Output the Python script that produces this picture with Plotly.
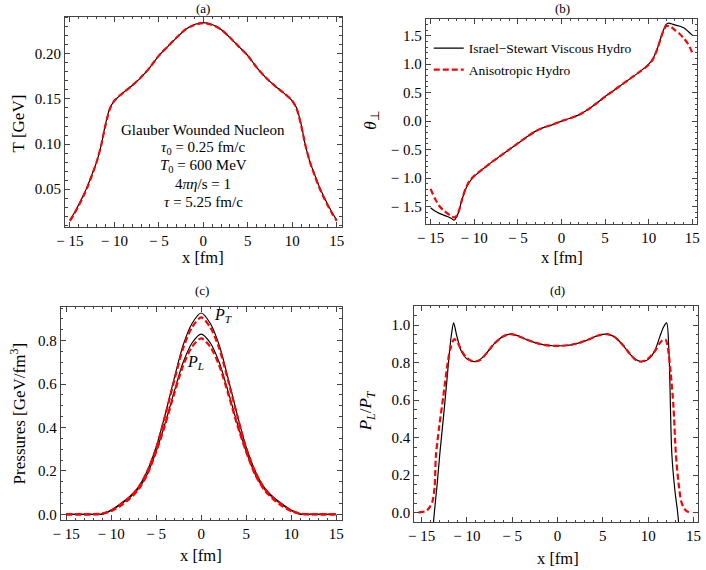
import plotly.graph_objects as go

# ---------------- data ----------------
# (a) temperature profile
x_a = [-15, -14.5, -14, -13.5, -13, -12.5, -12, -11.5, -11, -10.5, -10, -9, -8, -7, -6, -5, -4, -3, -2, -1, 0,
       1, 2, 3, 4, 5, 6, 7, 8, 9, 10, 10.5, 11, 11.5, 12, 12.5, 13, 13.5, 14, 14.5, 15]
T_is = [0.016, 0.024, 0.033, 0.043, 0.054, 0.067, 0.080, 0.098, 0.122, 0.140, 0.148, 0.157, 0.165, 0.174, 0.185,
        0.198, 0.208, 0.218, 0.227, 0.2325, 0.2345,
        0.2325, 0.227, 0.218, 0.208, 0.198, 0.185, 0.174, 0.165, 0.157, 0.148, 0.140, 0.122, 0.098, 0.080, 0.067,
        0.054, 0.043, 0.033, 0.024, 0.016]
T_ah = [0.015, 0.023, 0.032, 0.042, 0.053, 0.066, 0.080, 0.098, 0.121, 0.139, 0.148, 0.157, 0.165, 0.174, 0.185,
        0.198, 0.208, 0.218, 0.227, 0.232, 0.234,
        0.232, 0.227, 0.218, 0.208, 0.198, 0.185, 0.174, 0.165, 0.157, 0.148, 0.139, 0.121, 0.098, 0.080, 0.066,
        0.053, 0.042, 0.032, 0.023, 0.015]

# (b) theta_perp
x_b = [-15, -14.5, -14, -13.5, -13, -12.6, -12.3, -12, -11.7, -11.4, -11, -10.5, -10, -9, -8, -7, -6, -5, -4, -3,
       -2, -1, 0, 1, 2, 3, 4, 5, 6, 7, 8, 9, 10, 10.5, 11, 11.4, 11.7, 12, 12.3, 12.6, 13, 13.5, 14, 14.5, 15]
th_is = [-1.52, -1.58, -1.62, -1.65, -1.68, -1.71, -1.74, -1.68, -1.55, -1.38, -1.20, -1.06, -0.97, -0.84, -0.72,
         -0.61, -0.50, -0.39, -0.28, -0.18, -0.11, -0.06, 0.0, 0.05, 0.11, 0.20, 0.31, 0.43, 0.54, 0.65, 0.76,
         0.87, 1.00, 1.10, 1.28, 1.47, 1.60, 1.70, 1.72, 1.71, 1.69, 1.67, 1.64, 1.58, 1.51]
th_ah = [-1.19, -1.36, -1.49, -1.57, -1.63, -1.67, -1.69, -1.66, -1.55, -1.38, -1.19, -1.04, -0.96, -0.84, -0.72,
         -0.61, -0.50, -0.39, -0.28, -0.18, -0.11, -0.06, 0.0, 0.05, 0.11, 0.20, 0.31, 0.43, 0.54, 0.65, 0.76,
         0.87, 0.99, 1.09, 1.27, 1.46, 1.59, 1.67, 1.67, 1.65, 1.60, 1.54, 1.46, 1.36, 1.20]

# (c) pressures
x_c = [-15, -13, -12, -11, -10, -9, -8, -7, -6, -5, -4, -3, -2, -1, 0, 1, 2, 3, 4, 5, 6, 7, 8, 9, 10, 11, 12, 13, 15]
PT_is = [0.0, 0.0, 0.0, 0.001, 0.020, 0.048, 0.080, 0.125, 0.200, 0.310, 0.460, 0.625, 0.780, 0.880, 0.927,
         0.880, 0.780, 0.625, 0.460, 0.310, 0.200, 0.125, 0.080, 0.048, 0.020, 0.001, 0.0, 0.0, 0.0]
PL_is = [0.0, 0.0, 0.0, 0.001, 0.018, 0.045, 0.075, 0.117, 0.185, 0.290, 0.420, 0.565, 0.700, 0.790, 0.830,
         0.790, 0.700, 0.565, 0.420, 0.290, 0.185, 0.117, 0.075, 0.045, 0.018, 0.001, 0.0, 0.0, 0.0]
PT_ah = [0.0, 0.0, 0.001, 0.004, 0.018, 0.045, 0.077, 0.122, 0.197, 0.305, 0.455, 0.615, 0.765, 0.862, 0.907,
         0.862, 0.765, 0.615, 0.455, 0.305, 0.197, 0.122, 0.077, 0.045, 0.018, 0.004, 0.001, 0.0, 0.0]
PL_ah = [0.0, 0.0, 0.0, 0.003, 0.015, 0.038, 0.070, 0.113, 0.183, 0.288, 0.413, 0.555, 0.686, 0.772, 0.810,
         0.772, 0.686, 0.555, 0.413, 0.288, 0.183, 0.113, 0.070, 0.038, 0.015, 0.003, 0.0, 0.0, 0.0]

# (d) pressure ratio
x_d_is = [-13.75, -13.59, -13.3, -12.98, -12.6, -12.25, -11.95, -11.7, -11.46, -11.1, -10.6, -10.0, -9.5, -9.05,
          -8.6, -8.0, -7.0, -6.0, -5.25, -4.5, -3.5, -2.5, -1.5, -0.5, 0.5, 1.5, 2.5, 3.5, 4.5, 5.4, 6.2, 7.1,
          8.1, 8.7, 9.15, 9.6, 10.1, 10.7, 11.3, 11.7, 12.04, 12.3, 12.61, 12.95, 13.26, 13.4]
R_is = [-0.09, 0.0, 0.14, 0.316, 0.50, 0.68, 0.84, 0.95, 1.012, 0.94, 0.86, 0.82, 0.808, 0.806,
        0.815, 0.84, 0.90, 0.94, 0.952, 0.945, 0.925, 0.907, 0.895, 0.89, 0.89, 0.895, 0.907, 0.925, 0.945,
        0.952, 0.94, 0.90, 0.84, 0.815, 0.806, 0.808, 0.82, 0.86, 0.94, 0.99, 1.012, 0.85, 0.316, 0.12, 0.0,
        -0.08]
x_d_ah = [-15.33, -14.9, -14.45, -14.1, -13.8, -13.55, -13.42, -13.05, -12.6, -12.2, -11.85, -11.39, -11.0,
          -10.6, -10.1, -9.6, -9.05, -8.5, -8.0, -7.0, -6.0, -5.25, -4.5, -3.5, -2.5, -1.5, -0.5, 0.5, 1.5, 2.5,
          3.5, 4.5, 5.4, 6.2, 7.1, 8.1, 8.6, 9.15, 9.7, 10.2, 10.8, 11.3, 11.6, 11.93, 12.2, 12.5, 12.8, 13.05,
          13.35, 13.65, 13.95, 14.25, 14.53]
R_ah = [0.002, 0.004, 0.01, 0.03, 0.06, 0.14, 0.30, 0.46, 0.62, 0.77, 0.87, 0.925, 0.905, 0.865,
        0.83, 0.812, 0.806, 0.815, 0.84, 0.90, 0.94, 0.952, 0.945, 0.925, 0.907, 0.895, 0.89, 0.89, 0.895,
        0.907, 0.925, 0.945, 0.952, 0.94, 0.90, 0.84, 0.815, 0.806, 0.812, 0.83, 0.865, 0.905, 0.92, 0.922,
        0.87, 0.74, 0.56, 0.32, 0.16, 0.06, 0.025, 0.008, 0.002]

x_ticks = [-15, -10, -5, 0, 5, 10, 15]
x_ticktext = ["\u2212 15", "\u2212 10", "\u2212 5", "0", "5", "10", "15"]
yt_a = [0.05, 0.10, 0.15, 0.20]
yt_a_text = ["0.05", "0.10", "0.15", "0.20"]
yt_b = [-1.5, -1.0, -0.5, 0.0, 0.5, 1.0, 1.5]
yt_b_text = ["\u2212 1.5", "\u2212 1.0", "\u2212 0.5", "0.0", "0.5", "1.0", "1.5"]
yt_c = [0.0, 0.2, 0.4, 0.6, 0.8]
yt_c_text = ["0.0", "0.2", "0.4", "0.6", "0.8"]
yt_d = [0.0, 0.2, 0.4, 0.6, 0.8, 1.0]
yt_d_text = ["0.0", "0.2", "0.4", "0.6", "0.8", "1.0"]

LEG_IS = "Israel\u2212Stewart Viscous Hydro"
LEG_AH = "Anisotropic Hydro"

# ---------------- figure ----------------
W, H = 706, 570
FONT = "Liberation Serif, Times New Roman, serif"
FRAME = "#444444"
BLACK_LINE = dict(color="black", width=1.2, shape="spline", smoothing=0.8)
RED_LINE = dict(color="#ff0000", width=2.2, dash="6px,3px", shape="spline", smoothing=0.8)

fig = go.Figure()

def add(x, y, ax, line, name, show=False, group=None):
    fig.add_trace(go.Scatter(x=x, y=y, mode="lines", line=line, name=name, showlegend=show,
                             legendgroup=group, xaxis="x" + ax, yaxis="y" + ax, hoverinfo="skip"))

add(x_a, T_is, "", BLACK_LINE, LEG_IS)
add(x_a, T_ah, "", RED_LINE, LEG_AH)
add(x_b, th_is, "2", BLACK_LINE, LEG_IS, True, "g1")
add(x_b, th_ah, "2", RED_LINE, LEG_AH, True, "g2")
add(x_c, PT_is, "3", BLACK_LINE, LEG_IS)
add(x_c, PL_is, "3", BLACK_LINE, LEG_IS)
add(x_c, PT_ah, "3", RED_LINE, LEG_AH)
add(x_c, PL_ah, "3", RED_LINE, LEG_AH)
add(x_d_is, R_is, "4", BLACK_LINE, LEG_IS)
add(x_d_ah, R_ah, "4", RED_LINE, LEG_AH)

def px_dom_x(l, r):
    return [l / W, r / W]

def px_dom_y(top, bottom):
    return [1 - bottom / H, 1 - top / H]

def axis(dom, rng, tickvals, ticktext, minor_dtick, anchor):
    return dict(domain=dom, range=rng, tickvals=tickvals, ticktext=ticktext, anchor=anchor,
                showline=True, linecolor=FRAME, linewidth=1, mirror="allticks",
                ticks="inside", ticklen=5, tickwidth=1, tickcolor=FRAME,
                minor=dict(ticks="inside", ticklen=2.5, dtick=minor_dtick, tick0=0, tickcolor=FRAME, tickwidth=1),
                showgrid=False, zeroline=False,
                tickfont=dict(family=FONT, size=15, color="black"))

fig.update_layout(
    width=W, height=H, margin=dict(l=0, r=0, t=0, b=0),
    paper_bgcolor="white", plot_bgcolor="white",
    font=dict(family=FONT, color="black"),
    xaxis=axis(px_dom_x(57, 338.3), [-15.55, 15.55], x_ticks, x_ticktext, 1, "y"),
    yaxis=axis(px_dom_y(16.7, 227.3), [0.0087, 0.2412], yt_a, yt_a_text, 0.01, "x"),
    xaxis2=axis(px_dom_x(424, 700), [-15.55, 15.55], x_ticks, x_ticktext, 1, "y2"),
    yaxis2=axis(px_dom_y(19, 225), [-1.81, 1.795], yt_b, yt_b_text, 0.1, "x2"),
    xaxis3=axis(px_dom_x(52.7, 338.3), [-15.6, 15.6], x_ticks, x_ticktext, 1, "y3"),
    yaxis3=axis(px_dom_y(308, 522.3), [-0.028, 0.955], yt_c, yt_c_text, 0.05, "x3"),
    xaxis4=axis(px_dom_x(412.3, 701), [-15.8, 15.51], x_ticks, x_ticktext, 1, "y4"),
    yaxis4=axis(px_dom_y(306.7, 524.3), [-0.052, 1.104], yt_d, yt_d_text, 0.05, "x4"),
    legend=dict(x=427 / W, y=1 - 33 / H, xanchor="left", yanchor="top",
                bgcolor="rgba(0,0,0,0)", font=dict(family=FONT, size=13.5, color="black"),
                tracegroupgap=1, itemwidth=30),
)

ann = []
def text(xp, yp, s, size, angle=0):
    ann.append(dict(x=xp / W, y=1 - yp / H, xref="paper", yref="paper", text=s, showarrow=False,
                    textangle=angle, xanchor="center", yanchor="middle",
                    font=dict(family=FONT, size=size, color="black")))

# panel titles
text(197, 9, "(a)", 13)
text(563, 9, "(b)", 13)
text(196.5, 291.5, "(c)", 13)
text(558, 291.5, "(d)", 13)
# x titles
text(197.5, 258, "x [fm]", 16.5)
text(563, 258.5, "x [fm]", 16.5)
text(195.5, 557.5, "x [fm]", 16.5)
text(558, 560, "x [fm]", 16.5)
# y titles
text(10, 124, "T [GeV]", 17, -90)
text(369, 121.5, "<i>θ</i><sub>⊥</sub>", 17, -90)
text(9, 415, "Pressures [GeV/fm<sup>3</sup>]", 17, -90)
text(364, 412, "<i>P</i><sub><i>L</i></sub>/<i>P</i><sub><i>T</i></sub>", 17, -90)
# info box panel (a)
info = ["Glauber Wounded Nucleon",
        "<i>τ</i><sub>0</sub> = 0.25 fm/c",
        "<i>T</i><sub>0</sub> = 600 MeV",
        "4<i>πη</i>/s = 1",
        "<i>τ</i> = 5.25 fm/c"]
for i, s in enumerate(info):
    text(197.5, 130 + 18.3 * i, s, 15)
fig.update_layout(annotations=ann)
# curve labels in (c)
fig.add_annotation(x=2.4, y=0.914, xref="x3", yref="y3", text="<i>P</i><sub><i>T</i></sub>", showarrow=False,
                   font=dict(family=FONT, size=16, color="black"))
fig.add_annotation(x=-0.6, y=0.70, xref="x3", yref="y3", text="<i>P</i><sub><i>L</i></sub>", showarrow=False,
                   font=dict(family=FONT, size=16, color="black"))

fig.write_html("out.html", config={"displayModeBar": False, "staticPlot": True},
               post_script="document.body.style.margin='0';document.body.style.overflow='hidden';")
